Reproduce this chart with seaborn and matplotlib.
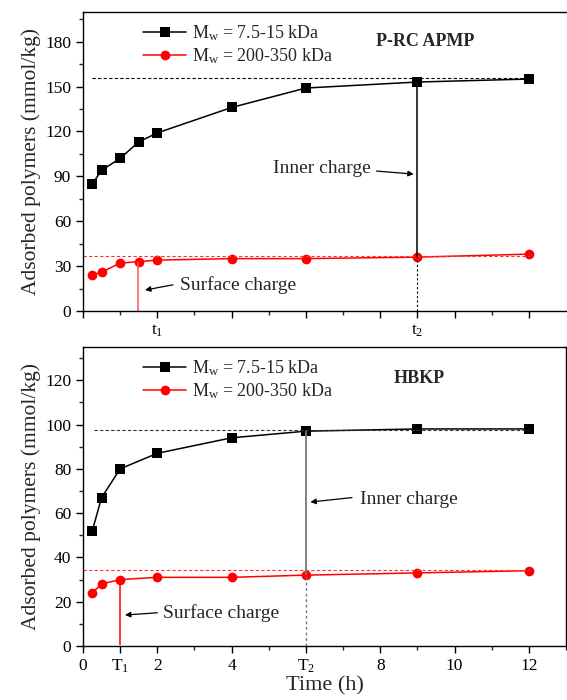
import numpy as np
import pandas as pd
import matplotlib
matplotlib.use("Agg")
import matplotlib.pyplot as plt
import seaborn as sns

# Adsorption kinetics data (time in h, adsorbed polymer in mmol/kg)
time_prc = [0.25, 0.5, 1, 1.5, 2, 4, 6, 9, 12]
prc_low = [85, 94, 102, 113, 119, 136, 149, 153, 155]
prc_high = [24, 26, 32, 33, 34, 35, 35, 36, 38]

time_hbkp = [0.25, 0.5, 1, 2, 4, 6, 9, 12]
hbkp_low = [52, 67, 80, 87, 94, 97, 98, 98]
hbkp_high = [24, 28, 30, 31, 31, 32, 33, 34]

series_names = [r"M$_{\mathregular{w}}$ = 7.5-15 kDa", r"M$_{\mathregular{w}}$ = 200-350 kDa"]

# plateau levels and characteristic times
prc_plateau = [155.5, 37]
hbkp_plateau = [97.5, 34.5]
prc_t1, prc_t2 = 1.47, 9
hbkp_t1, hbkp_t2 = 1, 6

sns.set_theme(style="ticks")
plt.rcParams["font.family"] = ["Liberation Serif", "DejaVu Serif"]
plt.rcParams["mathtext.fontset"] = "custom"
plt.rcParams["mathtext.rm"] = "Liberation Serif"
plt.rcParams["mathtext.it"] = "Liberation Serif"

W, H = 567, 700
fig = plt.figure(figsize=(W / 100, H / 100), dpi=100)
ax1 = fig.add_axes([83 / W, 1 - 311 / H, 483 / W, 299.3 / H])
ax2 = fig.add_axes([83 / W, 1 - 646 / H, 483 / W, 299 / H])

def make_df(t, low, high):
    return pd.DataFrame({
        "time": list(t) + list(t),
        "value": list(low) + list(high),
        "series": [series_names[0]] * len(t) + [series_names[1]] * len(t),
    })

palette = {series_names[0]: "black", series_names[1]: "#ff0000"}
markers = {series_names[0]: "s", series_names[1]: "o"}

for ax, t, low, high in [(ax1, time_prc, prc_low, prc_high), (ax2, time_hbkp, hbkp_low, hbkp_high)]:
    df = make_df(t, low, high)
    sns.lineplot(data=df, x="time", y="value", hue="series", style="series",
                 palette=palette, markers=markers, dashes=False, ax=ax,
                 linewidth=1.1, markersize=7, markeredgewidth=0, legend=True)
    leg = ax.legend(loc="upper left", bbox_to_anchor=(0.1, 1.0), frameon=False,
                    fontsize=13, handlelength=2.4, handletextpad=0.3,
                    labelspacing=0.15, borderaxespad=0.25)
    for spine in ax.spines.values():
        spine.set_linewidth(1.0)
        spine.set_color("black")
    ax.tick_params(which="major", direction="out", length=5, width=1, labelsize=12.5, colors="black")
    ax.tick_params(which="minor", direction="out", length=3, width=1)
    ax.set_xlabel("")
    ax.set_ylabel("Adsorbed polymers (mmol/kg)", fontsize=15.5, labelpad=3)

# ---- top panel: P-RC APMP ----
ax1.set_xlim(0, 13)
ax1.set_ylim(0, 200)
ax1.spines["right"].set_visible(False)
ax1.set_yticks(np.arange(0, 181, 30))
ax1.set_yticks(np.arange(15, 200, 15), minor=True)
ax1.set_xticks([0, 2, 4, 6, 8, 9, 10, 12])
ax1.set_xticklabels(["", r"t$_{\mathregular{1}}$", "", "", "", r"t$_{\mathregular{2}}$", "", ""])
ax1.set_xticks([1, 3, 5, 7, 11], minor=True)

ax1.hlines(prc_plateau[0], 0.25, 12, colors="black", linestyles=(0, (3, 2)), linewidth=0.8)
ax1.hlines(prc_plateau[1], 0, 12, colors="#ff3333", linestyles=(0, (3, 2)), linewidth=0.8)
ax1.vlines(prc_t1, 0, prc_high[3], colors="#ff5555", linewidth=1.1)
ax1.vlines(prc_t2, prc_high[7], prc_low[7], colors="black", linewidth=1.1)
ax1.vlines(prc_t2, 0, prc_high[7], colors="black", linestyles=(0, (2, 2)), linewidth=0.8)

arrow = dict(arrowstyle="-|>", color="black", linewidth=0.9, mutation_scale=8, shrinkA=0, shrinkB=0)
ax1.annotate("", xy=(1.67, 14), xytext=(2.42, 17.5), arrowprops=arrow)
ax1.text(2.6, 17, "Surface charge", fontsize=14, va="center", ha="left")
ax1.annotate("", xy=(8.9, 91.5), xytext=(7.9, 93.5), arrowprops=arrow)
ax1.text(7.74, 95.5, "Inner charge", fontsize=14, va="center", ha="right")
ax1.text(9.2, 180, "P-RC APMP", fontsize=13, fontweight="bold", ha="center", va="center")

# ---- bottom panel: HBKP ----
ax2.set_xlim(0, 13)
ax2.set_ylim(0, 135)
ax2.set_yticks(np.arange(0, 121, 20))
ax2.set_yticks(np.arange(10, 135, 10), minor=True)
ax2.set_xticks([0, 1, 2, 4, 6, 8, 10, 12])
ax2.set_xticklabels(["0", r"T$_{\mathregular{1}}$", "2", "4", r"T$_{\mathregular{2}}$", "8", "10", "12"])
ax2.set_xticks([3, 5, 7, 9, 11, 13], minor=True)
ax2.set_xlabel("Time (h)", fontsize=16, labelpad=1)

ax2.hlines(hbkp_plateau[0], 0.3, 12, colors="#333333", linestyles=(0, (3, 2)), linewidth=0.8)
ax2.hlines(hbkp_plateau[1], 0, 12, colors="#ff3333", linestyles=(0, (3, 2)), linewidth=0.8)
ax2.vlines(hbkp_t1, 0.5, hbkp_high[2], colors="#ff0000", linewidth=1.1)
ax2.vlines(hbkp_t2, hbkp_high[5], hbkp_low[5], colors="#777777", linewidth=1.3)
ax2.vlines(hbkp_t2, 0, hbkp_high[5], colors="#777777", linestyles=(0, (2, 2)), linewidth=1.0)

ax2.annotate("", xy=(1.13, 14), xytext=(2.0, 15), arrowprops=arrow)
ax2.text(2.15, 15, "Surface charge", fontsize=14, va="center", ha="left")
ax2.annotate("", xy=(6.12, 65), xytext=(7.24, 67), arrowprops=arrow)
ax2.text(7.45, 66, "Inner charge", fontsize=14, va="center", ha="left")
ax2.text(9.05, 121, "HBKP", fontsize=13, fontweight="bold", ha="center", va="center")

fig.savefig("out.png", dpi=100)
